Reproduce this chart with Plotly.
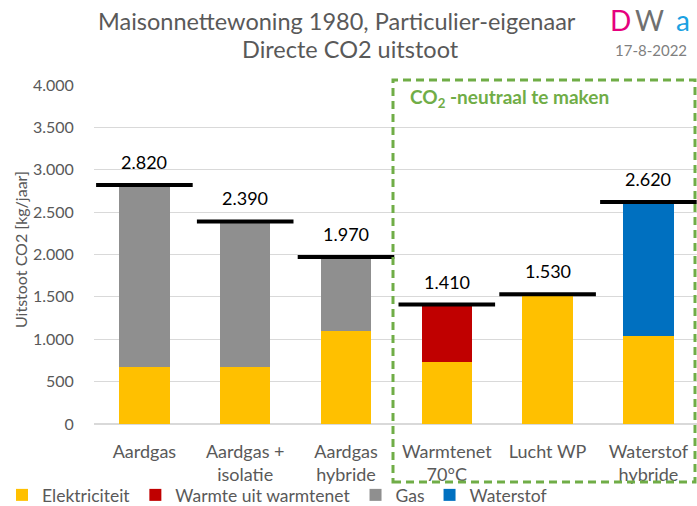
import plotly.graph_objects as go

categories = ["Aardgas", "Aardgas +<br>isolatie", "Aardgas<br>hybride",
              "Warmtenet<br>70°C", "Lucht WP", "Waterstof<br>hybride"]
elektriciteit = [670, 670, 1100, 730, 1530, 1040]
warmtenet = [0, 0, 0, 680, 0, 0]
gas = [2150, 1720, 870, 0, 0, 0]
waterstof = [0, 0, 0, 0, 0, 1580]
totals = [2820, 2390, 1970, 1410, 1530, 2620]
y_ticks = [0, 500, 1000, 1500, 2000, 2500, 3000, 3500, 4000]

FONT = "Lato"
GRAY = "#595959"
x = list(range(len(categories)))

L, R, T, B = 94, 697, 85, 424
PW, PH = R - L, B - T


def px(xp):
    return (xp - L) / PW


def py(yp):
    return (B - yp) / PH


fig = go.Figure()
series = [("Elektriciteit", elektriciteit, "#FFC000"),
          ("Warmte uit warmtenet", warmtenet, "#C00000"),
          ("Gas", gas, "#8F8F8F"),
          ("Waterstof", waterstof, "#0070C0")]
for name, vals, col in series:
    fig.add_trace(go.Bar(x=x, y=vals, name=name, marker=dict(color=col, line_width=0),
                         width=0.5))

fig.add_trace(go.Scatter(x=x, y=totals, mode="markers", showlegend=False,
                         marker=dict(symbol="line-ew", size=69,
                                     line=dict(color="black", width=4)),
                         hoverinfo="skip"))

for xi, t in zip(x, totals):
    fig.add_annotation(x=xi, y=t, text=f"{t:,}".replace(",", "."), showarrow=False,
                       xanchor="center", yanchor="middle", yshift=23,
                       font=dict(family=FONT, size=18, color="black"))


def paper_text(text, cx, cy, size, color, xanchor="center", weight="normal", angle=0):
    fig.add_annotation(xref="paper", yref="paper", x=px(cx), y=py(cy), text=text,
                       showarrow=False, xanchor=xanchor, yanchor="middle", borderpad=0,
                       textangle=angle,
                       font=dict(family=FONT, size=size, color=color, weight=weight))


# titles
paper_text("Maisonnettewoning 1980, Particulier-eigenaar", 337, 21, 23.5, GRAY)
paper_text("Directe CO2 uitstoot", 350, 49, 23.5, GRAY)
for ch, cx, col in [("D", 620, "#E6007E"), ("W", 649.5, "#707070"), ("a", 682.5, "#1BA1E2")]:
    paper_text(ch, cx, 20, 28, col)
paper_text("17-8-2022", 651, 50, 15, "#7F7F7F")
paper_text("Uitstoot CO2 [kg/jaar]", 20, 250, 16, GRAY, angle=-90)

# green box
fig.add_shape(type="rect", xref="paper", yref="paper",
              x0=px(393), x1=px(695), y0=py(482), y1=py(80),
              line=dict(color="#70AD47", width=3, dash="8px,5px"), layer="above")
paper_text("CO<sub>2</sub> -neutraal te maken", 409, 98, 19, "#70AD47",
           xanchor="left", weight="bold")

fig.update_layout(
    barmode="stack",
    width=697, height=506,
    margin=dict(l=L, r=697 - R, t=T, b=506 - B, autoexpand=False),
    plot_bgcolor="white", paper_bgcolor="white",
    separators=",.",
    font=dict(family=FONT, color=GRAY),
    legend=dict(orientation="h", xref="container", yref="container",
                x=2 / 697, xanchor="left", y=1 - 495 / 506, yanchor="middle",
                bgcolor="rgba(0,0,0,0)",
                font=dict(size=17.5, color=GRAY),
                traceorder="normal", itemwidth=30, tracegroupgap=0),
    xaxis=dict(tickvals=x, ticktext=categories, range=[-0.5, -0.5 + PW / 100.8],
               showgrid=False, zeroline=False, showline=False, automargin=False,
               ticks="outside", ticklen=11, tickcolor="rgba(0,0,0,0)",
               tickfont=dict(size=18, color=GRAY)),
    yaxis=dict(range=[0, 4000], tickvals=y_ticks, tickformat=",", automargin=False,
               gridcolor="#D9D9D9", gridwidth=1, zeroline=True, zerolinecolor="#D9D9D9",
               showline=False, ticks="outside", ticklen=16, tickcolor="rgba(0,0,0,0)",
               tickfont=dict(size=16, color=GRAY)),
)

fig.write_html("out.html", config={"displayModeBar": False},
               post_script="document.body.style.margin='0px';")
